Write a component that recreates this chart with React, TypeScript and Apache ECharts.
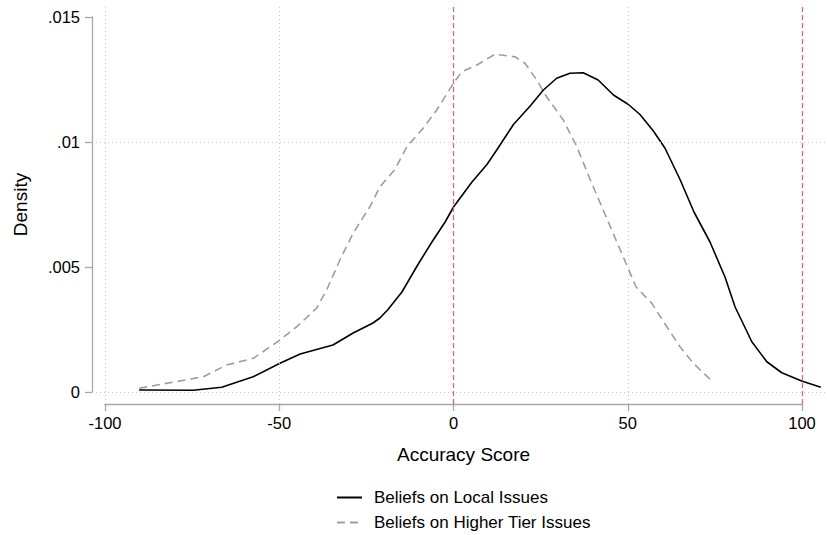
import React, { useEffect, useRef } from "react";
import * as echarts from "echarts";

// Kernel density estimates
const localX = [-90.2, -74.7, -66.5, -57.5, -49.8, -44, -34.6, -28.8, -23.1, -21.1, -18.8, -14.8, -10.2, -6.2, -2.4, 0, 5.3, 9.6, 12.4, 17.2, 22, 25.8, 29.6, 33.4, 37.2, 41.5, 45.9, 50.2, 53.5, 57.3, 60.7, 65, 69, 73.6, 77.9, 80.8, 85.6, 89.9, 94.2, 99.9, 105.4];
const localY = [0.00008, 0.00007, 0.00019, 0.00061, 0.00115, 0.00152, 0.00188, 0.00236, 0.00276, 0.00296, 0.0033, 0.004, 0.0051, 0.006, 0.0068, 0.0074, 0.0084, 0.0091, 0.00968, 0.0107, 0.01144, 0.01208, 0.01255, 0.01275, 0.01277, 0.01248, 0.01188, 0.0115, 0.0111, 0.01045, 0.00975, 0.0085, 0.0072, 0.006, 0.0046, 0.0034, 0.00201, 0.00121, 0.00077, 0.00044, 0.00019];

const higherX = [-90.2, -71.8, -65.1, -57.4, -49.8, -45, -39.3, -36.4, -32.6, -28.8, -24, -21.1, -16.8, -13.4, -8.7, -4.8, 0, 2.4, 6.7, 11.9, 17.6, 20.5, 23.9, 26.7, 31.5, 35.4, 39.2, 43.5, 47.8, 52.4, 56.9, 61.2, 65, 68.8, 73.6];
const higherY = [0.00015, 0.00061, 0.00108, 0.00135, 0.00208, 0.00261, 0.00335, 0.00408, 0.00528, 0.00635, 0.00741, 0.00821, 0.0089, 0.00981, 0.01055, 0.01128, 0.01235, 0.01281, 0.01308, 0.01351, 0.01341, 0.01315, 0.01248, 0.01181, 0.01088, 0.00981, 0.0085, 0.0071, 0.0057, 0.0042, 0.00355, 0.00261, 0.00181, 0.00115, 0.00051];

const xTicks = [-100, -50, 0, 50, 100];
const yTicks = [0, 0.005, 0.01, 0.015];
const vGrid = [-100, -50, 50];
const refLines = [0, 100];

const seriesNames = ["Beliefs on Local Issues", "Beliefs on Higher Tier Issues"];

const FONT = "Liberation Sans, Arial, Helvetica, sans-serif";

export default function App() {
  const ref = useRef<HTMLDivElement>(null);
  useEffect(() => {
    if (!ref.current) return;
    const chart = echarts.init(ref.current, null, { renderer: "svg" });
    const fmtY = (v: number) => {
      const s = parseFloat(v.toFixed(4)).toString();
      return s === "0" ? "0" : s.replace(/^0\./, ".");
    };
    const gridDot = { color: "#c8c8c8", type: [1, 3] as any, width: 1 };
    const option: any = {
      animation: false,
      backgroundColor: "#ffffff",
      textStyle: { fontFamily: FONT },
      grid: [
        { left: 92, right: 0, top: 5, bottom: 131 },
        { left: 105, right: 25, top: 5, bottom: 131 },
        { left: 92, right: 0, top: 17, bottom: 143 },
      ],
      xAxis: [
        {
          gridIndex: 0, type: "value", min: -103.73, max: 107.17,
          axisLine: { show: false }, axisTick: { show: false }, axisLabel: { show: false }, splitLine: { show: false },
          name: "Accuracy Score", nameLocation: "middle", nameGap: 41,
          nameTextStyle: { fontSize: 19, color: "#000", fontFamily: FONT, padding: [0, 0, 0, 8] },
        },
        {
          gridIndex: 1, type: "value", min: xTicks[0], max: xTicks[xTicks.length - 1], interval: 50,
          axisLine: { show: true, lineStyle: { color: "#a8a8a8", width: 1.3 } },
          axisTick: { show: true, length: 7, lineStyle: { color: "#a8a8a8", width: 1.3 } },
          axisLabel: { fontSize: 16.5, color: "#000", margin: 10, fontFamily: FONT },
          splitLine: { show: false },
        },
        { gridIndex: 2, type: "value", show: false, min: 0, max: 1 },
      ],
      yAxis: [
        {
          gridIndex: 0, type: "value", min: -0.00048, max: 0.01548, show: false,
        },
        { gridIndex: 1, type: "value", show: false, min: 0, max: 1 },
        {
          gridIndex: 2, type: "value", min: yTicks[0], max: yTicks[yTicks.length - 1], interval: 0.005,
          axisLine: { show: true, lineStyle: { color: "#a8a8a8", width: 1.3 } },
          axisTick: { show: true, length: 7, lineStyle: { color: "#a8a8a8", width: 1.3 } },
          axisLabel: { fontSize: 16.5, color: "#000", margin: 12, formatter: fmtY, fontFamily: FONT },
          splitLine: { show: false },
          name: "Density", nameLocation: "middle", nameGap: 62, nameRotate: 90,
          nameTextStyle: { fontSize: 19, color: "#000", fontFamily: FONT },
        },
      ],
      legend: {
        data: seriesNames,
        orient: "vertical",
        left: 336,
        top: 489,
        padding: 0,
        itemWidth: 25,
        itemHeight: 12,
        itemGap: 8,
        itemStyle: { opacity: 0 },
        textStyle: { fontSize: 17, color: "#000", fontFamily: FONT, padding: [0, 0, 0, 7] },
      },
      series: [
        {
          type: "line", name: "grid", xAxisIndex: 0, yAxisIndex: 0, data: [], z: 1, silent: true,
          markLine: {
            silent: true, symbol: ["none", "none"], label: { show: false },
            data: [
              ...vGrid.map((v) => ({ xAxis: v, lineStyle: gridDot })),
              ...yTicks.map((v) => ({ yAxis: v, lineStyle: gridDot })),
              ...refLines.map((v) => ({ xAxis: v, lineStyle: { color: "#d0649c", type: [5, 3], width: 1.3 } })),
            ],
          },
        },
        {
          type: "line", name: seriesNames[0], xAxisIndex: 0, yAxisIndex: 0, z: 3,
          data: localX.map((x, i) => [x, localY[i]]),
          symbol: "none", showSymbol: false,
          lineStyle: { color: "#000", width: 1.6 }, itemStyle: { color: "#000" },
        },
        {
          type: "line", name: seriesNames[1], xAxisIndex: 0, yAxisIndex: 0, z: 2,
          data: higherX.map((x, i) => [x, higherY[i]]),
          symbol: "none", showSymbol: false,
          lineStyle: { color: "#9e9e9e", width: 1.6, type: [8, 5] }, itemStyle: { color: "#9e9e9e" },
        },
      ],
    };
    chart.setOption(option);
    return () => chart.dispose();
  }, []);
  return (
    <div
      ref={ref}
      style={{ position: "fixed", left: 0, top: 0, width: 827, height: 535, background: "#fff" }}
    />
  );
}
